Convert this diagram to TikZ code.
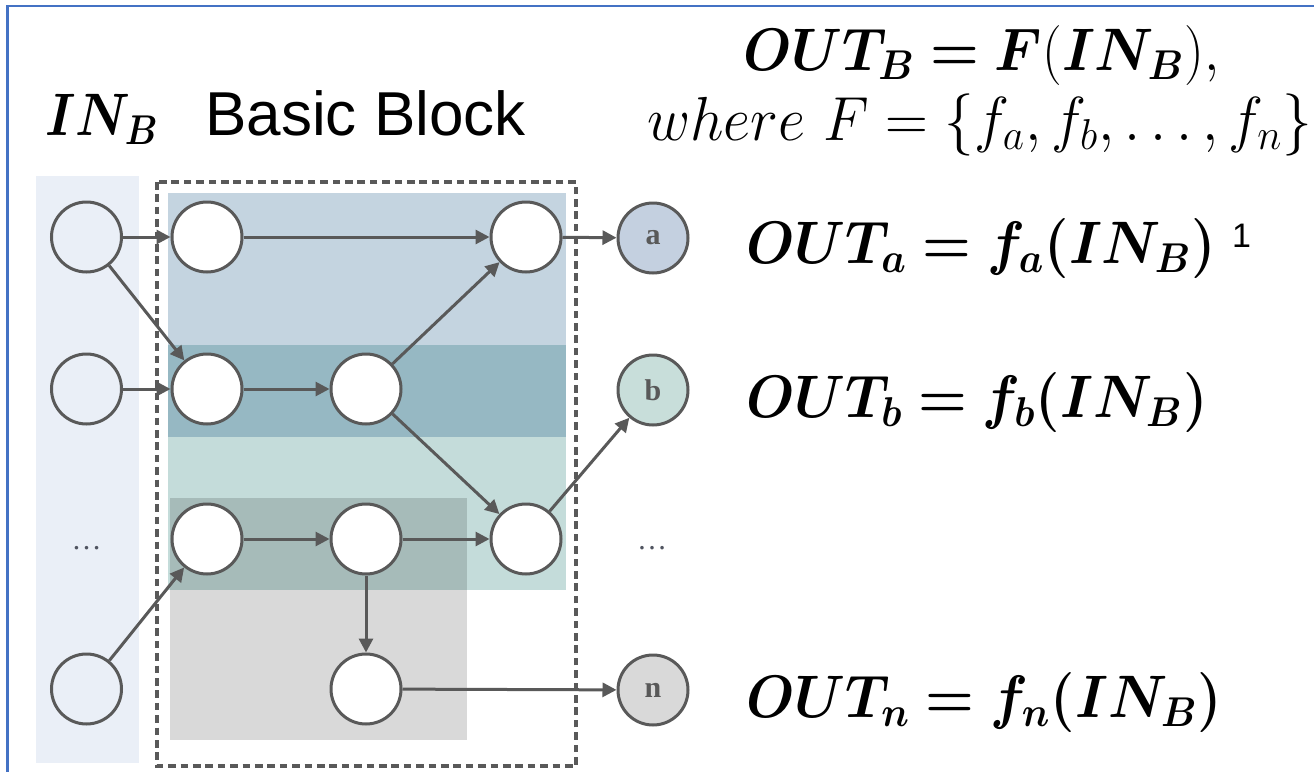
\documentclass[tikz,border=0pt]{standalone}
\usepackage{amsmath}
\usepackage{bm}
\usepackage{graphicx}
\usepackage{fontspec}
\usetikzlibrary{arrows.meta}
\newfontfamily\arialfont{Liberation Sans}
\newfontfamily\timesfont{Liberation Serif}

\definecolor{framecol}{RGB}{68,114,196}
\definecolor{edge}{RGB}{89,89,89}
\definecolor{inband}{RGB}{234,239,247}
\definecolor{bandA}{RGB}{196,212,224}
\definecolor{bandAB}{RGB}{150,184,195}
\definecolor{bandC}{RGB}{196,220,218}
\definecolor{outA}{RGB}{196,208,224}
\definecolor{outB}{RGB}{200,222,218}
\definecolor{outN}{RGB}{217,217,217}
\definecolor{dotcol}{RGB}{80,84,96}

% formulas are set at 20.74pt and enlarged; the first factor sets the width
\newcommand\eq[2][1.345]{\scalebox{#1}[1.446]{\fontsize{20.74}{25}\selectfont #2}}

\tikzset{
  nd/.style={circle, draw=edge, line width=1.5pt, minimum size=35pt, inner sep=0pt},
  innernd/.style={nd, fill=white},
  innd/.style={nd},
  outnd/.style={nd, font=\timesfont\bfseries\fontsize{15}{15}\selectfont, text=edge},
  conn/.style={draw=edge, line width=1.5pt, -{Triangle[length=7pt,width=7pt]}},
  dashbox/.style={draw=edge, line width=1.6pt, dash pattern=on 3.8pt off 2.4pt},
  dots/.style={font=\timesfont\fontsize{15}{15}\selectfont, text=dotcol, inner sep=0pt},
  formula/.style={anchor=base west, inner sep=0pt},
}

\begin{document}
\begin{tikzpicture}[x=0.5pt,y=-0.5pt]
\useasboundingbox (0,0) rectangle (1314,772);
\fill[white] (0,0) rectangle (1314,772);

% outer frame (top and left edges)
\draw[framecol, line width=1.25pt] (7.5,772) -- (7.5,6) -- (1314,6);

% input column and function regions
\fill[inband] (36,176) rectangle (138.5,763);
\fill[bandA] (168,193) rectangle (566,345);
\fill[bandAB] (168,345) rectangle (566,437);
\fill[bandC] (168,437) rectangle (566,590);
\fill[black, fill opacity=0.15] (170,498) rectangle (467,740);

% basic block boundary
\draw[dashbox] (157,182) rectangle (576,766);

% inputs
\node[innd] (ina) at (86.5,237) {};
\node[innd] (inb) at (86.5,389) {};
\node[dots] (indots) at (86.5,548) {\ldots};
\node[innd] (inn) at (86.5,689) {};

% operations inside the block
\node[innernd] (a1) at (207,237) {};
\node[innernd] (a3) at (526,237) {};
\node[innernd] (b1) at (207,389) {};
\node[innernd] (b2) at (366,389) {};
\node[innernd] (c1) at (207,539) {};
\node[innernd] (c2) at (366,539) {};
\node[innernd] (c3) at (526,539) {};
\node[innernd] (n2) at (366,689) {};

% outputs
\node[outnd, fill=outA] (outa) at (653,238) {a};
\node[outnd, fill=outB] (outb) at (653,390) {b};
\node[dots] (outdots) at (652,548) {\ldots};
\node[outnd, fill=outN] (outn) at (653,690) {n};

% data flow
\draw[conn] (ina) -- (a1);
\draw[conn] (ina) -- (b1);
\draw[conn] (inb) -- (b1);
\draw[conn] (inn) -- (c1);
\draw[conn] (a1) -- (a3);
\draw[conn] (b1) -- (b2);
\draw[conn] (b2) -- (a3);
\draw[conn] (b2) -- (c3);
\draw[conn] (c1) -- (c2);
\draw[conn] (c2) -- (c3);
\draw[conn] (c2) -- (n2);
\draw[conn] (a3) -- (outa);
\draw[conn] (c3) -- (outb);
\draw[conn] (n2) -- (outn);

% headings
\node[formula] (inlabel) at (45,135) {\eq[1.244]{$\bm{IN_B}$}};
\node[anchor=base west, inner sep=0pt, font=\arialfont\fontsize{31}{36}\selectfont] (bblabel) at (205,135) {Basic Block};

% block function
\node[formula] (fB) at (743,70) {\eq{$\bm{OUT_B} \bm{=} \bm{F}(\bm{IN_B}),$}};
\node[anchor=base east, inner sep=0pt] (fset) at (1313,140) {\scalebox{1.43}[1.5]{\fontsize{20.74}{25}\selectfont $where\ F = \{f_a, f_b, \dots, f_n\}$}};

% per-output functions
\node[formula] (fa) at (746,263) {\eq{$\bm{OUT_a = f_a(IN_B)}$}\hspace{8pt}\raisebox{8pt}{\fontsize{17}{17}\arialfont 1}};
\node[formula] (fb) at (746,417) {\eq{$\bm{OUT_b = f_b(IN_B)}$}};
\node[formula] (fn) at (746,717) {\eq{$\bm{OUT_n = f_n(IN_B)}$}};
\end{tikzpicture}
\end{document}
